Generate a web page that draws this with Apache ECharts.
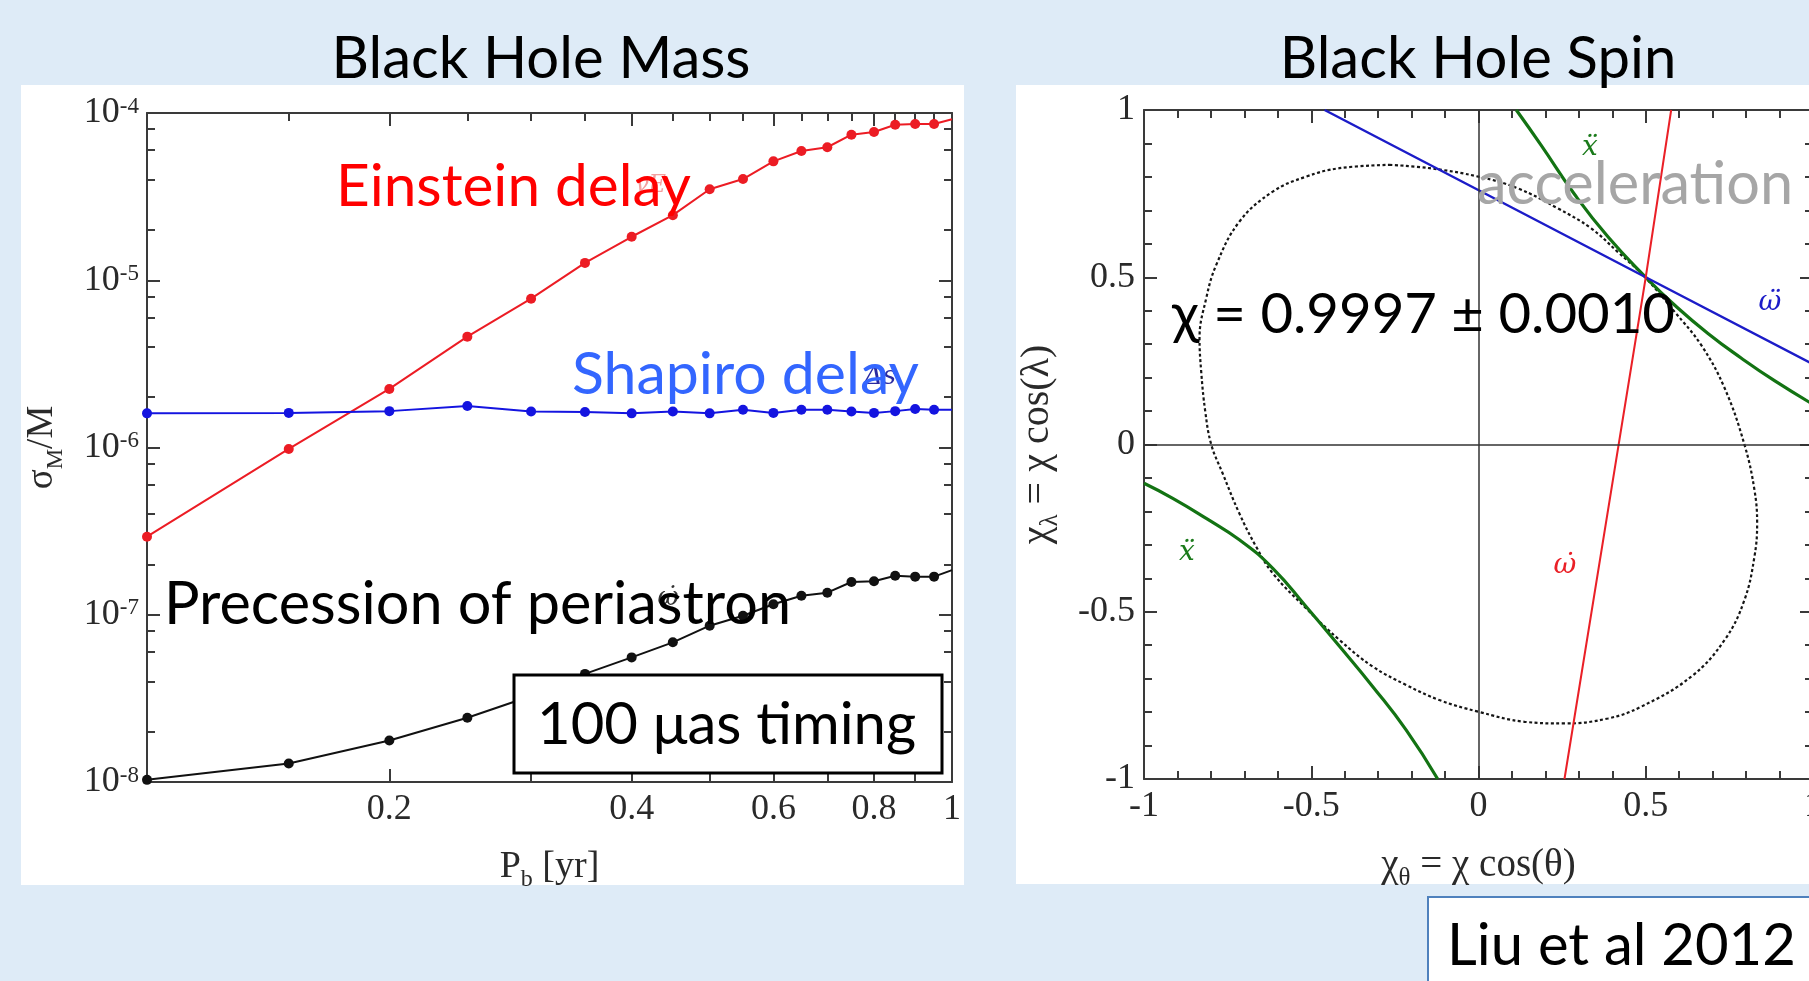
<!DOCTYPE html>
<html><head><meta charset="utf-8">
<script src="https://cdn.jsdelivr.net/npm/echarts@6/dist/echarts.min.js"></script>
<style>html,body{margin:0;padding:0;background:#DEEBF7;overflow:hidden}#c{width:1809px;height:981px}</style>
</head><body><div id="c"></div>
<script>
// ===== Left panel data: sigma_M / M versus orbital period P_b [yr] =====
const periods = [0.1,0.15,0.2,0.25,0.3,0.35,0.4,0.45,0.5,0.55,0.6,0.65,0.7,0.75,0.8,0.85,0.9,0.95,1.0];
const einsteinDelay = [2.93e-7,9.8e-7,2.24e-6,4.6e-6,7.76e-6,1.27e-5,1.82e-5,2.45e-5,3.5e-5,4.03e-5,5.14e-5,5.93e-5,6.24e-5,7.42e-5,7.7e-5,8.51e-5,8.6e-5,8.6e-5,9.17e-5];
const shapiroDelay = [1.60e-6,1.61e-6,1.65e-6,1.77e-6,1.64e-6,1.63e-6,1.60e-6,1.64e-6,1.60e-6,1.68e-6,1.61e-6,1.68e-6,1.68e-6,1.64e-6,1.61e-6,1.65e-6,1.70e-6,1.68e-6,1.68e-6];
const periastron = [1.03e-8,1.29e-8,1.77e-8,2.42e-8,3.27e-8,4.43e-8,5.56e-8,6.84e-8,8.6e-8,9.87e-8,1.155e-7,1.30e-7,1.355e-7,1.57e-7,1.585e-7,1.71e-7,1.69e-7,1.69e-7,1.85e-7];
// tick values (left panel)
const periodLabels = [0.2,0.4,0.6,0.8,1];
const periodMajorTicks = [0.2,0.4,0.6,0.8];
const periodBottomMinor = [0.3,0.5,0.7,0.9];
const periodTopMinor = [0.15,0.25,0.3,0.35,0.45,0.5,0.55,0.65,0.7,0.75,0.85,0.9,0.95];
const sigmaDecades = [1e-8,1e-7,1e-6,1e-5,1e-4];
const sigmaMajorTicks = [1e-7,1e-6,1e-5];
const sigmaMinorTicks = [2e-8,4e-8,6e-8,8e-8,2e-7,4e-7,6e-7,8e-7,2e-6,4e-6,6e-6,8e-6,2e-5,4e-5,6e-5,8e-5];

// ===== Right panel data: chi_theta vs chi_lambda =====
const omegaDDot = [[-0.46,1.0],[0.5,0.5],[1.0,0.24]];
const omegaDot = [[0.257,-1.0],[0.5,0.5],[0.576,1.0]];
const xDDotUpper = [[0.113,1.0],[0.187,0.895],[0.287,0.748],[0.387,0.621],[0.5,0.5],[0.586,0.417],[0.686,0.332],[0.786,0.258],[0.886,0.19],[1.0,0.12]];
const xDDotLower = [[-1.0,-0.116],[-0.914,-0.161],[-0.814,-0.221],[-0.715,-0.285],[-0.615,-0.37],[-0.515,-0.485],[-0.415,-0.604],[-0.316,-0.724],[-0.216,-0.854],[-0.122,-1.0]];
const errorContour = [[-0.266,0.836],[-0.146,0.826],[0.003,0.8],[0.117,0.766],[0.237,0.706],[0.337,0.646],[0.416,0.576],[0.496,0.502],[0.586,0.397],[0.666,0.297],[0.736,0.168],[0.795,0.0],[0.825,-0.136],[0.833,-0.236],[0.825,-0.335],[0.795,-0.465],[0.736,-0.584],[0.636,-0.694],[0.486,-0.784],[0.387,-0.819],[0.257,-0.834],[0.138,-0.829],[0.0,-0.799],[-0.117,-0.764],[-0.216,-0.719],[-0.316,-0.664],[-0.416,-0.584],[-0.515,-0.49],[-0.615,-0.385],[-0.665,-0.305],[-0.715,-0.206],[-0.765,-0.086],[-0.799,0.0],[-0.817,0.1],[-0.829,0.218],[-0.834,0.318],[-0.814,0.437],[-0.784,0.537],[-0.715,0.666],[-0.615,0.756],[-0.515,0.801],[-0.416,0.826],[-0.266,0.836]];

const AX = '#3a3a3a', LBL = '#2a2a2a';
const SERIF = "'Liberation Serif','DejaVu Serif',serif";
const SYM = "'DejaVu Serif',serif";
const SANS = "Lato,'Open Sans',sans-serif";
const RED = '#ec1c24', BLUE = '#1414e0', BLACK = '#111111';

const lineW = {color: AX, width: 2};
function tickAx(extra) { return Object.assign({splitLine:{show:false}, minorTick:{show:false}, axisLabel:{show:false}, axisLine:{show:false, onZero:false, lineStyle:lineW}}, extra); }

const supRich = {b:{fontFamily:SERIF,fontSize:36,color:LBL,verticalAlign:'bottom'}, s:{fontFamily:SERIF,fontSize:23,color:LBL,verticalAlign:'top'}};
const mkRich = (big, small) => ({a:{fontFamily:SERIF,fontSize:big,color:LBL,verticalAlign:'bottom',padding:[0,0,6,0]}, sub:{fontFamily:SERIF,fontSize:small,color:LBL,verticalAlign:'bottom'}});

const xLog = (pos, ticks, len, lineShow) => tickAx({type:'log', logBase:10, gridIndex:0, min:0.1, max:1, position:pos,
  axisLine:{show:lineShow, onZero:false, lineStyle:lineW}, axisTick:{show:true, inside:true, length:len, customValues:ticks, lineStyle:lineW}});
const yLog = (pos, ticks, len, lineShow) => tickAx({type:'log', logBase:10, gridIndex:0, min:1e-8, max:1e-4, position:pos,
  axisLine:{show:lineShow, onZero:false, lineStyle:lineW}, axisTick:{show:true, inside:true, length:len, customValues:ticks, lineStyle:lineW}});
const spinAx = (pos, grid) => tickAx({type:'value', gridIndex:grid, min:-1, max:1, interval:0.5, position:pos,
  axisLine:{show:true, onZero:false, lineStyle:lineW}, axisTick:{show:true, inside:true, length:13, lineStyle:lineW},
  minorTick:{show:true, splitNumber:5, length:8, lineStyle:lineW}});

const xAxes = [
  Object.assign(xLog('bottom', periodMajorTicks, 13, true), {
    axisLabel:{show:true, customValues:periodLabels, fontFamily:SERIF, fontSize:36, color:LBL, margin:10,
      formatter: v => String(+(+v).toFixed(2))},
    name:'{a|P}{sub|b}{a| [yr]}', nameLocation:'middle', nameGap:66, nameMoveOverlap:false,
    nameTextStyle:{rich:mkRich(38, 24)}}),
  xLog('bottom', periodBottomMinor, 8, false),
  xLog('top', periodMajorTicks, 13, true),
  xLog('top', periodTopMinor, 8, false),
  Object.assign(spinAx('bottom', 1), {
    axisLabel:{show:true, fontFamily:SERIF, fontSize:36, color:LBL, margin:10, formatter: v => String(v)},
    name:'{a|χ}{sub|θ}{a| = χ cos(θ)}', nameLocation:'middle', nameGap:67, nameMoveOverlap:false,
    nameTextStyle:{rich:mkRich(39, 25)}}),
  spinAx('top', 1)
];
const yAxes = [
  Object.assign(yLog('left', sigmaMajorTicks, 13, true), {
    axisLabel:{show:true, customValues:sigmaDecades, margin:8,
      formatter: v => '{b|10}{s|' + Math.round(Math.log10(v)) + '}', rich:supRich},
    name:'{a|σ}{sub|M}{a|/M}', nameLocation:'middle', nameGap:80, nameRotate:90, nameMoveOverlap:false,
    nameTextStyle:{rich:mkRich(37, 23)}}),
  yLog('left', sigmaMinorTicks, 8, false),
  yLog('right', sigmaMajorTicks, 13, true),
  yLog('right', sigmaMinorTicks, 8, false),
  Object.assign(spinAx('left', 1), {
    axisLabel:{show:true, fontFamily:SERIF, fontSize:36, color:LBL, margin:9, formatter: v => String(v)},
    name:'{a|χ}{sub|λ}{a| = χ cos(λ)}', nameLocation:'middle', nameGap:81, nameRotate:90, nameMoveOverlap:false,
    nameTextStyle:{rich:mkRich(40, 25)}}),
  spinAx('right', 1)
];

const pts = arr => periods.map((p, i) => [p, arr[i]]);
const massSeries = (data, color) => ({type:'line', xAxisIndex:0, yAxisIndex:0, data:data, symbol: v => (v[0] >= 1 ? 'none' : 'circle'),
  symbolSize:10, itemStyle:{color:color}, lineStyle:{color:color, width:2}, silent:true, animation:false, z:4});
const spinLine = (data, color, width, extra) => Object.assign({type:'line', xAxisIndex:4, yAxisIndex:4, data:data, symbol:'none',
  lineStyle:{color:color, width:width}, silent:true, animation:false, z:4}, extra || {});

const T = (text, x, y, size, fill, align) => ({type:'text', z:100,
  style:{text:text, x:x, y:y, font:'normal ' + size + 'px ' + SANS, fill:fill, align:align || 'left', verticalAlign:'middle'}});
const S = (text, x, y, size, fill) => ({type:'text', z:50,
  style:{text:text, x:x, y:y, font:'italic ' + size + 'px ' + SYM, fill:fill, align:'center', verticalAlign:'middle'}});

const option = {
  backgroundColor:'#DEEBF7',
  animation:false,
  grid:[
    {left:147, top:113, width:805, height:669, outerBoundsMode:'none', containLabel:false},
    {left:1144, top:110, width:669, height:669, outerBoundsMode:'none', containLabel:false}
  ],
  xAxis:xAxes,
  yAxis:yAxes,
  series:[
    massSeries(pts(einsteinDelay), RED),
    massSeries(pts(shapiroDelay), BLUE),
    massSeries(pts(periastron), BLACK),
    spinLine(errorContour, '#151515', 2.2, {smooth:0.4, lineStyle:{color:'#151515', width:2.2, type:[3,2.5]}, z:3,
      markLine:{silent:true, symbol:'none', label:{show:false}, lineStyle:{color:'#333', width:1.5, type:'solid'},
        data:[{xAxis:0},{yAxis:0}]}}),
    spinLine(xDDotUpper, '#137313', 3.2, {smooth:0.5}),
    spinLine(xDDotLower, '#137313', 3.2, {smooth:0.5}),
    spinLine(omegaDDot, '#1c1cc8', 2.5),
    spinLine(omegaDot, '#ea2027', 2)
  ],
  graphic:[
    {type:'rect', z:-1, shape:{x:21, y:85, width:943, height:800}, style:{fill:'#ffffff'}},
    {type:'rect', z:-1, shape:{x:1016, y:85, width:800, height:799}, style:{fill:'#ffffff'}},
    // faint symbol labels from the original figure
    S('γE', 650, 186, 24, '#f3a0a0'),
    S('Δs', 880, 377, 26, '#2a2aa0'),
    S('ω̇', 668, 598, 26, '#333333'),
    S('ẍ', 1590, 148, 28, '#1a7a1a'),
    S('ẍ', 1187, 553, 28, '#1a7a1a'),
    S('ω̈', 1770, 303, 28, '#1c1cc8'),
    S('ω̇', 1565, 566, 28, '#ea2027'),
    // slide titles and annotations
    T('Black Hole Mass', 541, 59, 58, '#000', 'center'),
    T('Black Hole Spin', 1478, 59, 58, '#000', 'center'),
    T('Einstein delay', 336, 187, 58.5, '#ff0000'),
    T('Shapiro delay', 572, 375, 59, '#3366ff'),
    T('Precession of periastron', 164, 605, 59.4, '#000000'),
    {type:'rect', z:99, shape:{x:514, y:675, width:428, height:98}, style:{fill:'#ffffff', stroke:'#000', lineWidth:3}},
    T('100 μas timing', 537, 725, 58, '#000000'),
    T('acceleration', 1477, 185, 59.5, '#a6a6a6'),
    T('χ = 0.9997 ± 0.0010', 1172, 315, 56.3, '#000000'),
    {type:'rect', z:99, shape:{x:1428, y:897, width:420, height:110}, style:{fill:'#ffffff', stroke:'#4f81bd', lineWidth:2}},
    T('Liu et al 2012', 1447, 946, 58, '#000000')
  ]
};
const chart = echarts.init(document.getElementById('c'));
chart.setOption(option);
</script></body></html>
